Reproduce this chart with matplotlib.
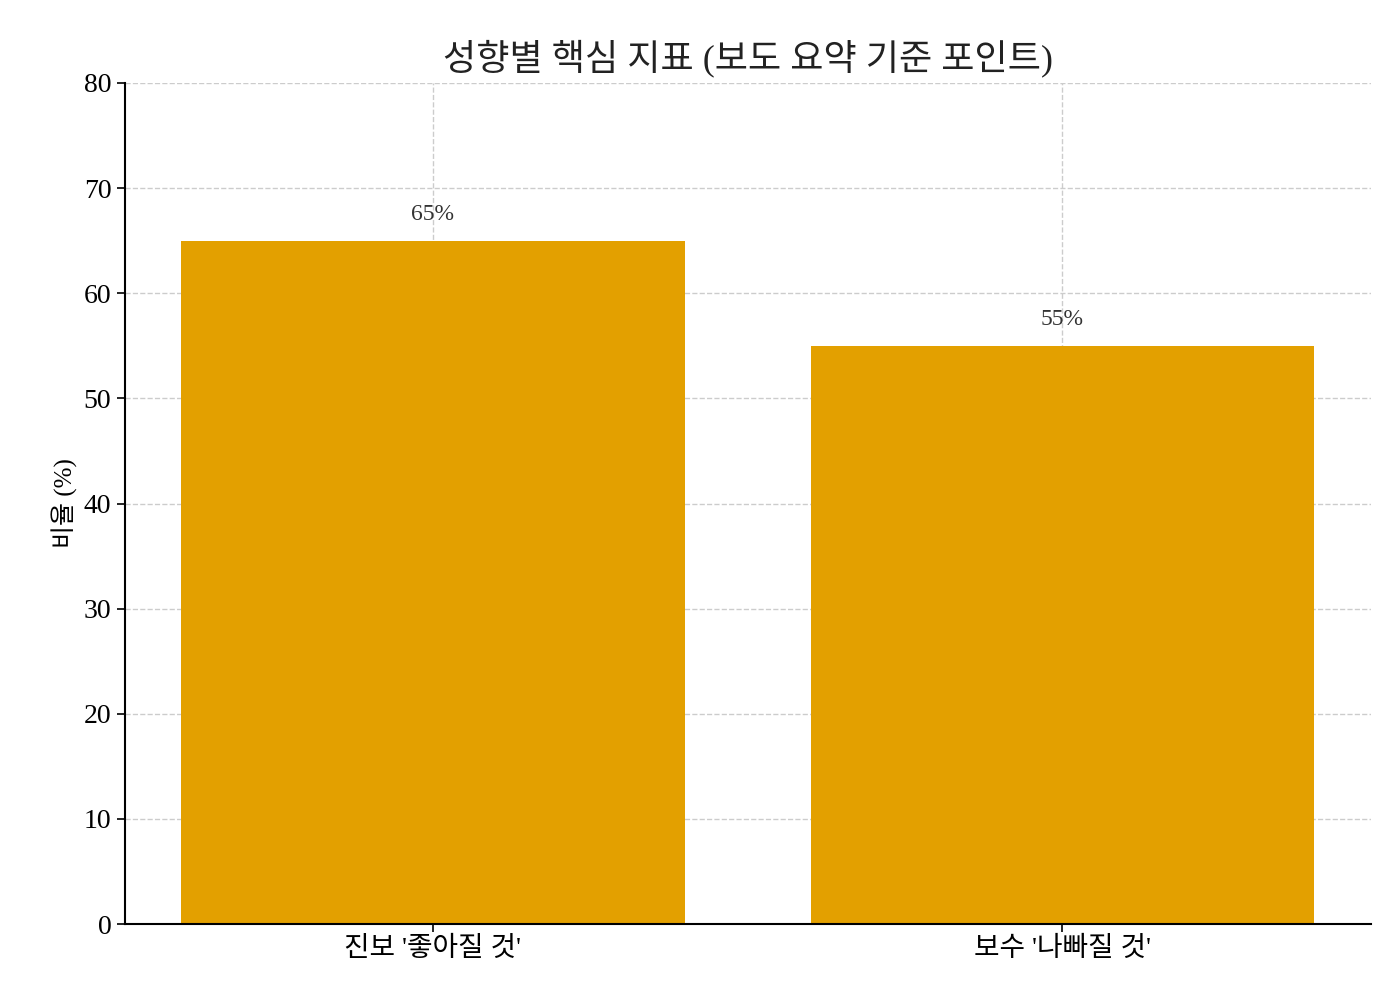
import matplotlib.pyplot as plt

plt.rcParams['font.family'] = ['Liberation Serif', 'Noto Sans CJK KR']

categories = ["진보 '좋아질 것'", "보수 '나빠질 것'"]
values = [65, 55]
labels = ['65%', '55%']

fig = plt.figure(figsize=(14, 10), dpi=100)
ax = fig.add_axes([0.089, 0.076, 0.89, 0.841])
x = range(len(categories))
ax.bar(x, values, width=0.8, color='#E3A000', zorder=2)
for i, v in enumerate(values):
    ax.text(i, v + 1.5, labels[i], ha='center', va='bottom', fontsize=17, color='#333333', zorder=3)

ax.set_xticks(list(x))
ax.set_xticklabels(categories, fontsize=20)
ax.set_ylim(0, 80)
ax.set_yticks(range(0, 81, 10))
ax.tick_params(axis='y', labelsize=20)
ax.tick_params(length=6, width=1.2)
ax.set_ylabel('비율 (%)', fontsize=18)
ax.set_title('성향별 핵심 지표 (보도 요약 기준 포인트)', fontsize=26, pad=10, color='#222222')
ax.grid(True, linestyle='--', color='#cccccc', linewidth=1, zorder=0)
ax.spines['top'].set_visible(False)
ax.spines['right'].set_visible(False)
ax.spines['left'].set_linewidth(1.5)
ax.spines['bottom'].set_linewidth(1.5)
ax.set_xlim(-0.49, 1.49)

fig.savefig('out.png', dpi=100)
